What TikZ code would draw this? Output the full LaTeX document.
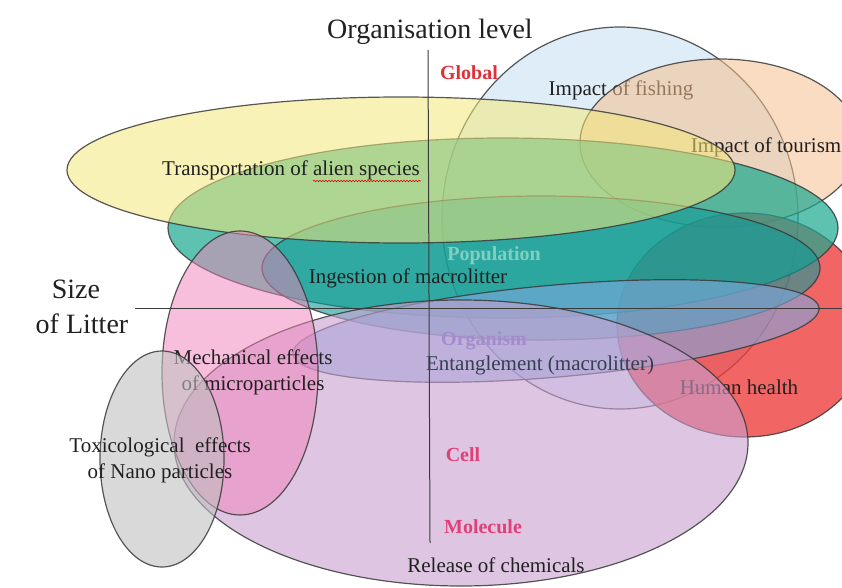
\documentclass[tikz,border=0pt]{standalone}
\usepackage{fontspec}
\setmainfont{Liberation Serif}
\usetikzlibrary{decorations.pathmorphing}

\definecolor{ink}{HTML}{202020}
\definecolor{rim}{HTML}{3A3A3A}
\definecolor{fishblue}{HTML}{C5DEF2}
\definecolor{tourpeach}{HTML}{F5C08F}
\definecolor{alienyellow}{HTML}{F2E77A}
\definecolor{popteal}{HTML}{1AA88F}
\definecolor{ingestteal}{HTML}{109A98}
\definecolor{healthred}{HTML}{EE3A3A}
\definecolor{tangleblue}{HTML}{7FA8E0}
\definecolor{chempurple}{HTML}{C8A0D0}
\definecolor{micropink}{HTML}{F080B8}
\definecolor{nanogray}{HTML}{C0C0C0}
\definecolor{levelred}{HTML}{E0303A}
\definecolor{levelpink}{HTML}{E0407A}
\definecolor{orglilac}{HTML}{A48CCC}

\tikzset{
  blob/.style={draw=rim, line width=1.2pt, draw opacity=0.85, fill opacity=#1},
  blob/.default=0.55,
  lbl/.style={inner sep=0pt, text=ink, font=\fontsize{21}{26}\selectfont},
  level/.style={inner sep=0pt, font=\bfseries\fontsize{20}{24}\selectfont},
  big/.style={inner sep=0pt, text=ink, font=\fontsize{28}{34}\selectfont},
  axis/.style={draw=rim, line width=1pt},
  squiggle/.style={red!85!black, line width=0.6pt, decorate,
    decoration={snake, segment length=3pt, amplitude=0.7pt}}
}

\begin{document}
\begin{tikzpicture}[x=1pt,y=-1pt]

\useasboundingbox (0,0) rectangle (842,588);
\clip (0,0) rectangle (842,588);

\node [level, text=levelred] (global) at (469,73) {Global};

\draw [blob, fill=fishblue] (620,218) ellipse [x radius=178, y radius=191];
\node [lbl] (fishing) at (621,90) {Impact of fishing};

\draw [blob, fill=tourpeach] (720,143) ellipse [x radius=140, y radius=84];
\node [lbl] (tourism) at (766,147) {Impact of tourism};

\draw [blob=0.78, fill=healthred] (745,325) ellipse [x radius=128, y radius=112];

\draw [blob=0.7, fill=popteal] (503,228) ellipse [x radius=335, y radius=90];
\draw [blob=0.6, fill=ingestteal] (541,268) ellipse [x radius=279, y radius=72];

\draw [blob, fill=alienyellow] (401,170) ellipse [x radius=334, y radius=73];
\node [lbl] (alien) at (291,170) {Transportation of alien species};
\draw [squiggle] (313,181) -- (421,181);

\node [lbl] (ingest) at (408,278) {Ingestion of macrolitter};

\draw [blob=0.6, fill=tangleblue, rotate around={5:(556,331)}] (556,331) ellipse [x radius=264, y radius=46];

\node [lbl] (health) at (739,387) {Human health};

\draw [blob=0.6, fill=chempurple] (461,443) ellipse [x radius=287, y radius=143];

\node [level, text=popteal!55] (population) at (494,256) {Population};
\node [level, text=orglilac] (organism) at (484,341) {Organism};
\node [lbl, text=ink!65!tangleblue!80!black] (tangle) at (540,365) {Entanglement (macrolitter)};
\node [level, text=levelpink] (cell) at (463,455) {Cell};
\node [level, text=levelpink] (molecule) at (483,527) {Molecule};
\node [lbl] (release) at (496,565) {Release of chemicals};

\draw [blob=0.5, fill=micropink] (240,373) ellipse [x radius=78, y radius=142];
\node [lbl, align=center] (micro) at (253,372) {Mechanical effects\\of microparticles};

\draw [blob=0.6, fill=nanogray] (162,459) ellipse [x radius=62, y radius=108];
\node [lbl, align=center] (nano) at (160,460) {Toxicological\ \ effects\\of Nano particles};

\draw [axis] (428,50) -- (430,543);
\draw [axis] (135,308) -- (842,308);

\node [big] (orglevel) at (430,32) {Organisation level};
\node [big] (size) at (76,289) {Size};
\node [big] (litter) at (82,324) {of Litter};

\end{tikzpicture}
\end{document}
